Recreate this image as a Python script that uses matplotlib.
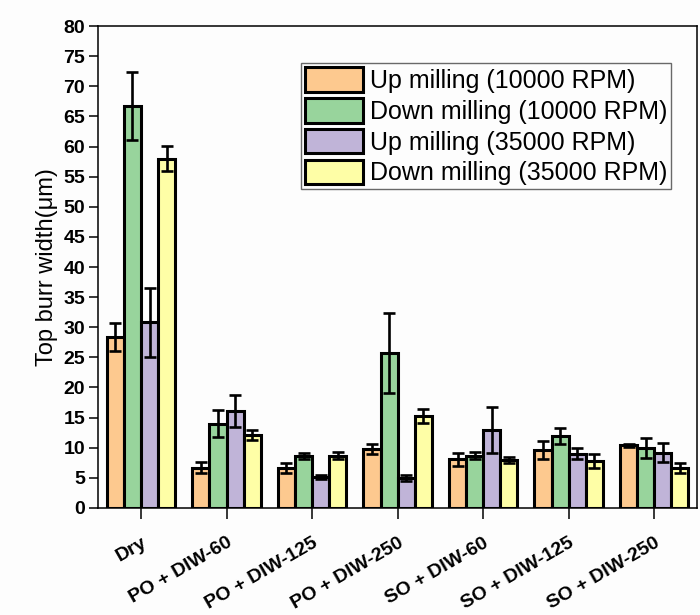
import matplotlib
matplotlib.use("Agg")
import matplotlib.pyplot as plt
import numpy as np

plt.rcParams["font.family"] = ["Liberation Sans", "DejaVu Sans"]

# Data
categories = ["Dry", "PO + DIW-60", "PO + DIW-125", "PO + DIW-250",
              "SO + DIW-60", "SO + DIW-125", "SO + DIW-250"]
series_names = ["Up milling (10000 RPM)", "Down milling (10000 RPM)",
                "Up milling (35000 RPM)", "Down milling (35000 RPM)"]

up_10k = [28.4, 6.7, 6.6, 9.8, 8.1, 9.6, 10.4]
up_10k_err = [2.3, 0.9, 0.8, 0.8, 1.1, 1.45, 0.3]
down_10k = [66.7, 14.0, 8.6, 25.7, 8.7, 11.9, 10.0]
down_10k_err = [5.7, 2.2, 0.5, 6.6, 0.6, 1.3, 1.7]
up_35k = [30.8, 16.1, 5.1, 4.9, 12.9, 9.0, 9.2]
up_35k_err = [5.7, 2.7, 0.3, 0.5, 3.8, 0.9, 1.6]
down_35k = [58.0, 12.1, 8.7, 15.3, 7.9, 7.8, 6.6]
down_35k_err = [2.1, 0.8, 0.6, 1.2, 0.5, 1.15, 0.8]

values = [up_10k, down_10k, up_35k, down_35k]
errors = [up_10k_err, down_10k_err, up_35k_err, down_35k_err]
colors = ["#fdc98f", "#98d49c", "#c0b4d8", "#fefea6"]

fig = plt.figure(figsize=(7.0, 6.15), dpi=100)
fig.patch.set_facecolor("#fdfdfd")
ax = fig.add_axes([0.1404, 0.174, 0.8553, 0.7837])
ax.set_facecolor("#fdfdfd")

x = np.arange(len(categories))
width = 0.2
for i, (vals, errs) in enumerate(zip(values, errors)):
    offset = (i - 1.5) * width
    ax.bar(x + offset, vals, width, color=colors[i], edgecolor="black",
           linewidth=2.2, label=series_names[i], zorder=2)
    ax.errorbar(x + offset, vals, yerr=errs, fmt="none", ecolor="black",
                elinewidth=1.9, capsize=4, capthick=1.9, zorder=3)

ax.set_xlim(-0.5, 6.5)
ax.set_ylim(0, 80)
ax.set_yticks(np.arange(0, 81, 5))
ax.set_xticks(x)
ax.set_xticklabels(categories, rotation=30, ha="right", va="top",
                   rotation_mode="anchor", fontsize=14, fontweight="bold")
for lbl in ax.get_yticklabels():
    lbl.set_fontsize(14)
    lbl.set_fontweight("bold")

ax.tick_params(axis="y", direction="out", length=6.5, width=1.1, pad=3)
ax.tick_params(axis="x", direction="out", length=8, width=1.1, pad=11)
for spine in ax.spines.values():
    spine.set_linewidth(1.1)

ax.set_ylabel("Top burr width(\u03bcm)", fontsize=17, labelpad=4)

leg = ax.legend(loc="upper right", bbox_to_anchor=(0.957, 0.923), fontsize=18,
                frameon=True, fancybox=False, edgecolor="#444444",
                handlelength=2.3, handleheight=1.15, labelspacing=0.2,
                borderpad=0.15, handletextpad=0.3, borderaxespad=0)
leg.get_frame().set_linewidth(1.0)
leg.get_frame().set_facecolor("#fdfdfd")

fig.savefig("out.png", dpi=100, facecolor=fig.get_facecolor())
plt.close(fig)
